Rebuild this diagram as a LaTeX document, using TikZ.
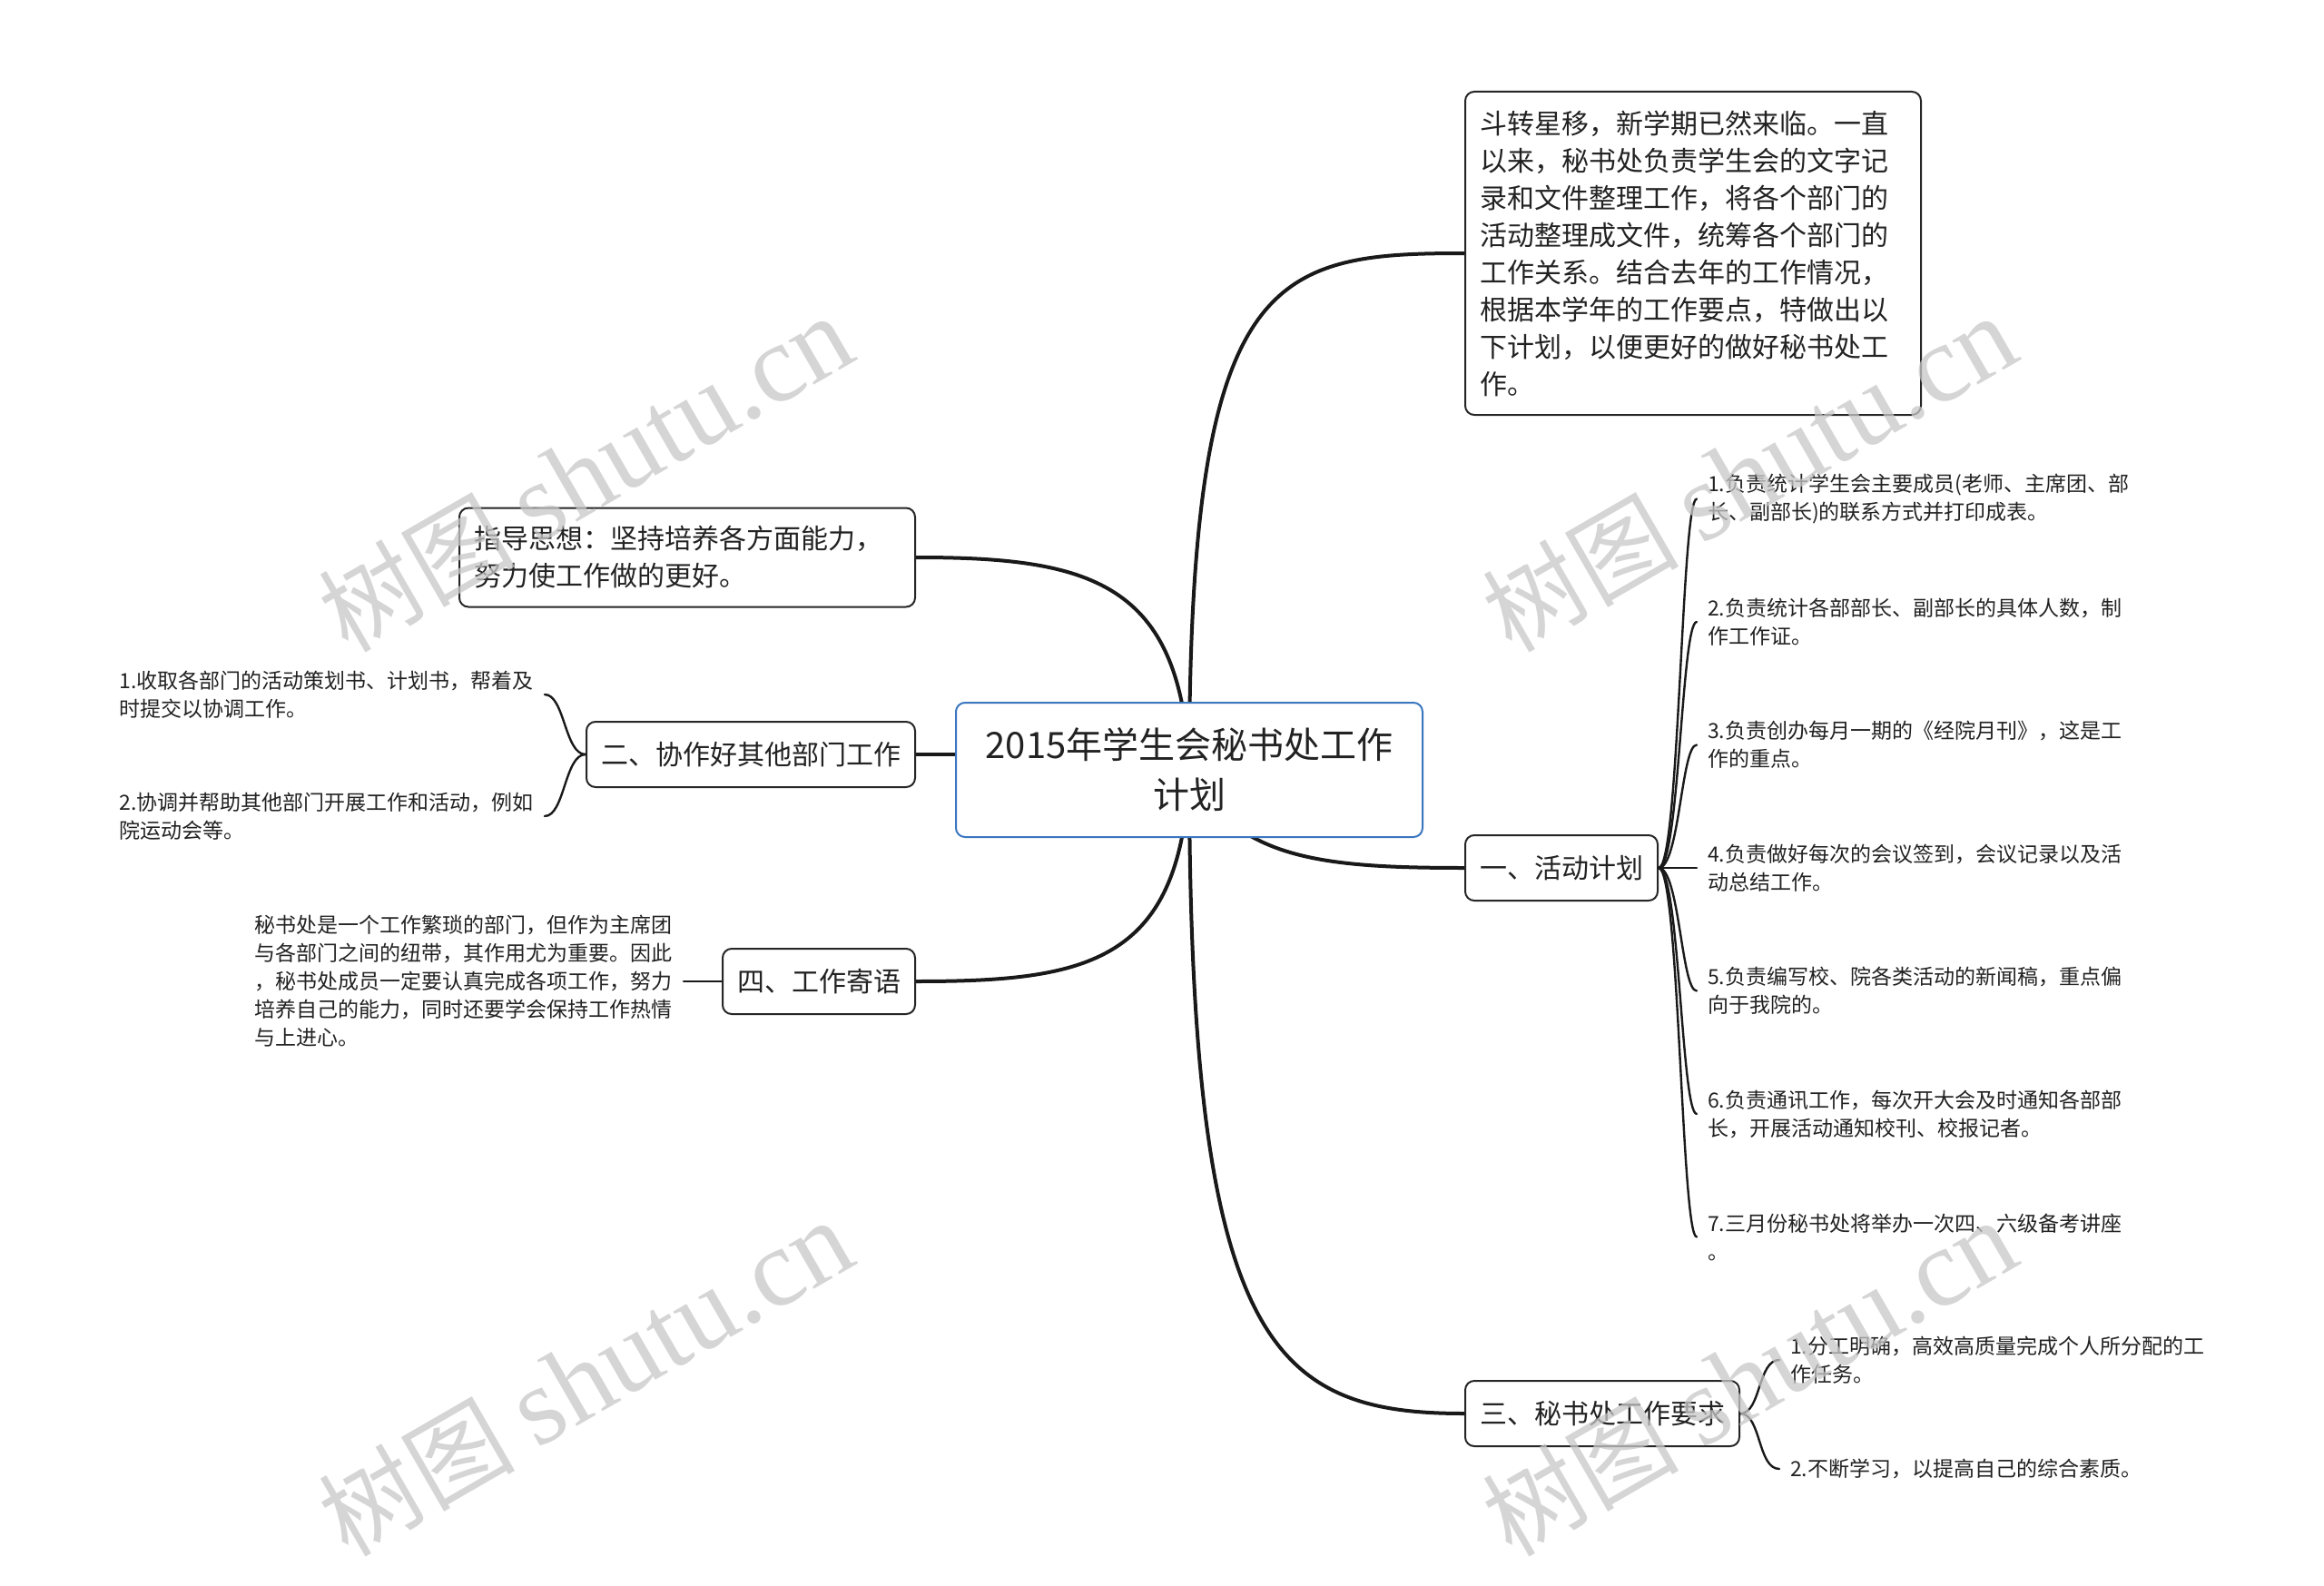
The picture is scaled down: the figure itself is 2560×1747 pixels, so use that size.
\documentclass[tikz,border=0pt]{standalone}
\usepackage{fontspec}
\setmainfont{Noto Sans CJK SC}
\newfontfamily\wmcjk{Noto Sans CJK SC}
\newfontfamily\wmlat{Liberation Serif}
\usetikzlibrary{backgrounds}
\definecolor{mainblue}{HTML}{3A76C0}
\definecolor{txt}{HTML}{222222}
\definecolor{wm}{HTML}{C8C8C8}
\tikzset{
  mainbox/.style={draw=mainblue, line width=2pt, rounded corners=10pt, fill=white, text=txt,
    align=center, font=\fontsize{40}{55}\selectfont, minimum width=514, minimum height=148},
  topicbox/.style={draw=black!85, line width=2pt, rounded corners=10pt, fill=white, text=txt,
    align=left, font=\fontsize{30}{41}\selectfont, inner xsep=16pt, inner ysep=12pt, minimum height=72},
  leaftext/.style={text=txt, align=left, font=\fontsize{23}{31}\selectfont, inner xsep=12pt, inner ysep=2pt},
  mainlink/.style={draw=black!90, line width=4pt, line cap=round},
  leaflink/.style={draw=black!90, line width=2.4pt, line cap=round},
  wmark/.style={text=wm, rotate=30, opacity=0.75}
}
\begin{document}
\begin{tikzpicture}[x=1pt,y=-1pt]
\useasboundingbox (0,0) rectangle (2560,1747);

% central node
\node[mainbox] (m) at (1310,848) {2015年学生会秘书处工作\\计划};

% topic nodes
\node[topicbox, anchor=west, text width=470, minimum height=356, inner ysep=14pt] (t) at (1613,279)
 {斗转星移，新学期已然来临。一直\\以来，秘书处负责学生会的文字记\\录和文件整理工作，将各个部门的\\活动整理成文件，统筹各个部门的\\工作关系。结合去年的工作情况，\\根据本学年的工作要点，特做出以\\下计划，以便更好的做好秘书处工\\作。};
\node[topicbox, anchor=east, text width=470, minimum height=109] (g) at (1009,614)
 {指导思想：坚持培养各方面能力，\\努力使工作做的更好。};
\node[topicbox, anchor=east] (n2) at (1009,831) {二、协作好其他部门工作};
\node[topicbox, anchor=east] (n4) at (1009,1081) {四、工作寄语};
\node[topicbox, anchor=west] (n1) at (1613,956) {一、活动计划};
\node[topicbox, anchor=west] (n3) at (1613,1557) {三、秘书处工作要求};

% leaves of 一
\node[leaftext, anchor=west] (a1) at (1869,549.5) {1.负责统计学生会主要成员(老师、主席团、部\\长、副部长)的联系方式并打印成表。};
\node[leaftext, anchor=west] (a2) at (1869,685) {2.负责统计各部部长、副部长的具体人数，制\\作工作证。};
\node[leaftext, anchor=west] (a3) at (1869,820.5) {3.负责创办每月一期的《经院月刊》，这是工\\作的重点。};
\node[leaftext, anchor=west] (a4) at (1869,956) {4.负责做好每次的会议签到，会议记录以及活\\动总结工作。};
\node[leaftext, anchor=west] (a5) at (1869,1091.5) {5.负责编写校、院各类活动的新闻稿，重点偏\\向于我院的。};
\node[leaftext, anchor=west] (a6) at (1869,1227) {6.负责通讯工作，每次开大会及时通知各部部\\长，开展活动通知校刊、校报记者。};
\node[leaftext, anchor=west] (a7) at (1869,1362.5) {7.三月份秘书处将举办一次四、六级备考讲座\\。};

% leaves of 三
\node[leaftext, anchor=west] (d1) at (1960,1498) {1.分工明确，高效高质量完成个人所分配的工\\作任务。};
\node[leaftext, anchor=west] (d2) at (1960,1618) {2.不断学习，以提高自己的综合素质。};

% leaves of 二
\node[leaftext, anchor=east] (b1) at (600,765) {1.收取各部门的活动策划书、计划书，帮着及\\时提交以协调工作。};
\node[leaftext, anchor=east] (b2) at (600,899) {2.协调并帮助其他部门开展工作和活动，例如\\院运动会等。};

% leaf of 四
\node[leaftext, anchor=east] (c1) at (753,1081) {秘书处是一个工作繁琐的部门，但作为主席团\\与各部门之间的纽带，其作用尤为重要。因此\\，秘书处成员一定要认真完成各项工作，努力\\培养自己的能力，同时还要学会保持工作热情\\与上进心。};

\begin{scope}[on background layer]
  \fill[white] (0,0) rectangle (2560,1747);
  \draw[mainlink] (m.center) .. controls (1310,300) and (1400,279) .. (t.west);
  \draw[mainlink] (m.center) .. controls (1302,640) and (1200,614) .. (g.east);
  \draw[mainlink] (n2.east) -- (n2.east -| m.west);
  \draw[mainlink] (m.center) .. controls (1302,1060) and (1200,1081) .. (n4.east);
  \draw[mainlink] (m.center) .. controls (1360,945) and (1450,956) .. (n1.west);
  \draw[mainlink] (m.center) .. controls (1310,1480) and (1400,1557) .. (n3.west);
\end{scope}

% connectors of leaves
\foreach \k in {a1,a2,a3,a5,a6,a7}{
  \draw[leaflink] (n1.east) .. controls (1850,956) and (1852,0|-\k.west) .. (\k.west);
}
\draw[leaflink] (n1.east) -- (a4.west);
\draw[leaflink] (n3.east) .. controls (1940,1557) and (1936,1498) .. (d1.west);
\draw[leaflink] (n3.east) .. controls (1940,1557) and (1936,1618) .. (d2.west);
\draw[leaflink] (n2.west) .. controls (622,831) and (622,765) .. (b1.east);
\draw[leaflink] (n2.west) .. controls (622,831) and (622,899) .. (b2.east);
\draw[leaflink] (n4.west) -- (c1.east);

% watermarks
\foreach \p/\q in {645/522, 1927/522, 645/1518, 1927/1518}{
  \node[wmark] at (\p,\q) {\fontsize{108}{108}\wmcjk 树图 \wmlat\fontsize{122}{122}\selectfont shutu.cn};
}
\end{tikzpicture}
\end{document}
